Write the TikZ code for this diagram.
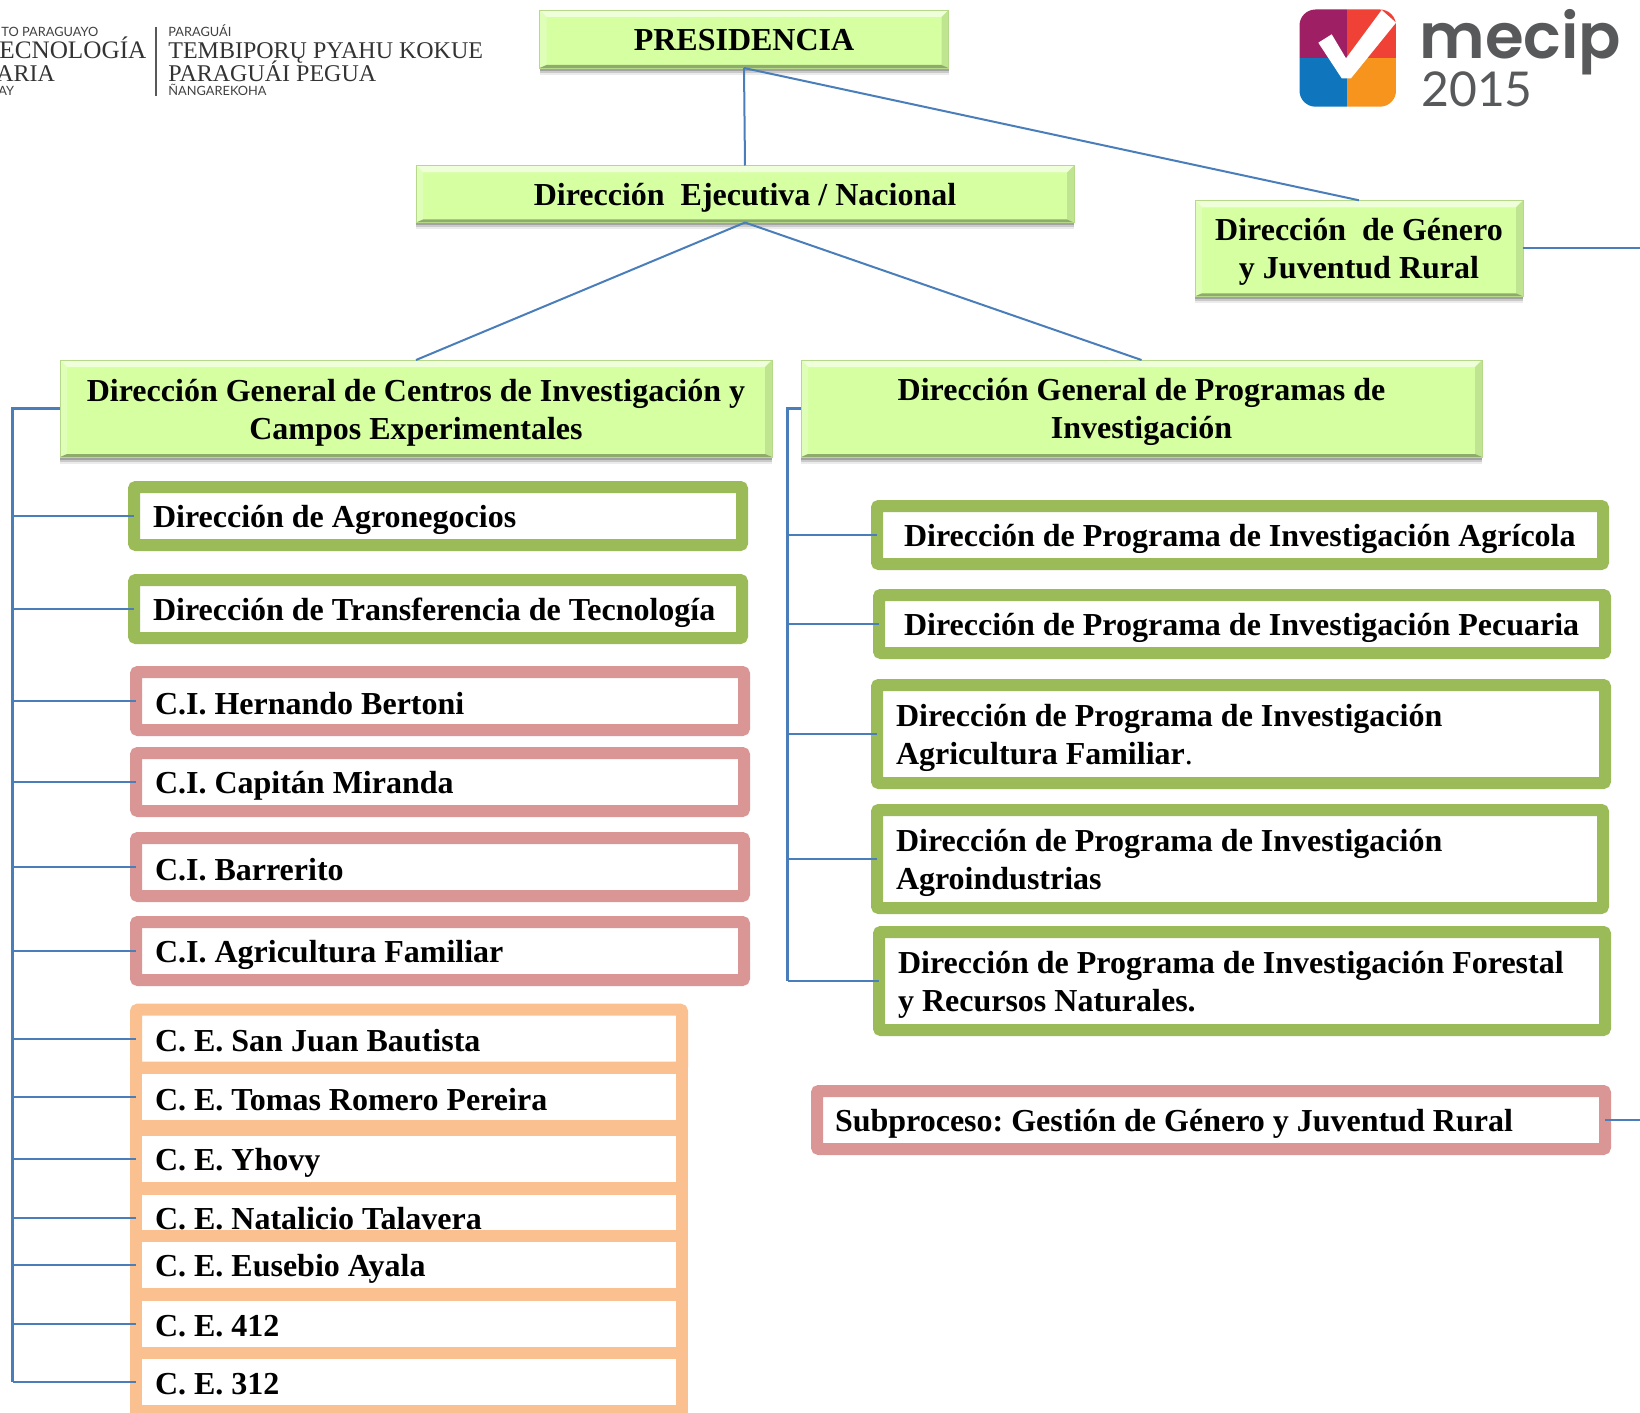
\documentclass[tikz,border=0pt]{standalone}
\usepackage{fontspec}
\setmainfont{Liberation Serif}
\newfontfamily\logosans{Lato}
\newfontfamily\mecipfont{Poppins}[UprightFont=* SemiBold]
\usetikzlibrary{shadows}
\definecolor{linkc}{HTML}{4A7EBB}
\definecolor{greenf}{HTML}{D5FFA0}
\definecolor{olive}{HTML}{9BBB59}
\definecolor{rosec}{HTML}{D99694}
\definecolor{peach}{HTML}{FBC08F}
\definecolor{logog}{HTML}{58595B}
\newcommand{\padv}{19}
\tikzset{
  link/.style={draw=linkc,line width=1pt},
  trunk/.style={draw=linkc,line width=1.3pt},
  txt/.style={font=\fontsize{16}{19}\selectfont\bfseries\frenchspacing,text=black,
    execute at begin node={\rule{0pt}{15pt}},
    execute at end node={\rule[-2pt]{0pt}{2pt}}},
  raised/.style={execute at end node={\rule[-#1]{0pt}{#1}}},
  bevel/.style={path picture={
    \def\pb{path picture bounding box}
    \fill[white!60!greenf] (\pb.north west)--(\pb.north east)--([xshift=-3.5pt,yshift=-3.5pt]\pb.north east)--([xshift=3.5pt,yshift=-3.5pt]\pb.north west)--cycle;
    \fill[white!25!greenf] (\pb.north west)--(\pb.south west)--([xshift=3.5pt,yshift=1.5pt]\pb.south west)--([xshift=3.5pt,yshift=-3.5pt]\pb.north west)--cycle;
    \fill[black!10!greenf] (\pb.north east)--(\pb.south east)--([xshift=-3.5pt,yshift=1.5pt]\pb.south east)--([xshift=-3.5pt,yshift=-3.5pt]\pb.north east)--cycle;
    \fill[black!33!greenf] (\pb.south west)--(\pb.south east)--([xshift=-3.5pt,yshift=1.5pt]\pb.south east)--([xshift=3.5pt,yshift=1.5pt]\pb.south west)--cycle;
  }},
  gbox/.style 2 args={txt,rectangle,fill=greenf,draw=black!15!greenf,line width=.4pt,bevel,
    minimum width=#1*0.5pt,minimum height=#2*0.5pt,inner sep=0pt,outer sep=0pt,align=flush center,
    text width=#1*0.5pt,
    drop shadow={shadow xshift=0pt,shadow yshift=-3.5pt,fill=black,opacity=.08},
    drop shadow={shadow xshift=0pt,shadow yshift=-2.5pt,fill=black,opacity=.14},
    drop shadow={shadow xshift=0pt,shadow yshift=-1.5pt,fill=black,opacity=.2}},
  frame/.style n args={3}{txt,rectangle,draw=#1,fill=white,line width=6pt,rounded corners=1pt,
    minimum width={(#2-12)*0.5pt},minimum height={(#3-12)*0.5pt},
    inner ysep=0pt,outer sep=0pt,align=flush left,
    inner xsep=\padv*0.5pt,text width={(#2-12-2*\padv)*0.5pt}},
  padded/.code={\renewcommand{\padv}{#1}},
  logoserif/.style={anchor=base west,inner sep=0pt,text=black!80,font=\fontsize{12}{12}\selectfont},
  logosmall/.style={anchor=base west,inner sep=0pt,text=black!75,font=\fontsize{6.4}{7}\selectfont\logosans},
}
\begin{document}
\begin{tikzpicture}[x=0.5pt,y=-0.5pt]
\path[use as bounding box,clip] (0,0) rectangle (1640,1413);

% left logo
\node[logosmall] (l1) at (1,37) {TO PARAGUAYO};
\node[logoserif,font=\fontsize{12.6}{12}\selectfont] (l2) at (-1,59) {ECNOLOGÍA};
\node[logoserif] (l3) at (-4,82) {ARIA};
\node[logosmall] (l4) at (-2,96) {AY};
\coordinate (sepa) at (156,27);
\coordinate (sepb) at (156,96);
\draw[black!65,line width=.6pt] (sepa) -- (sepb);
\node[logosmall] (r1) at (168,37) {PARAGUÁI};
\node[logoserif] (r2) at (168,59) {TEMBIPORŲ PYAHU KOKUE};
\node[logoserif] (r3) at (168,82) {PARAGUÁI PEGUA};
\node[logosmall] (r4) at (168,96) {ÑANGAREKOHA};

% mecip logo
\begin{scope}
\clip[rounded corners=8pt] (1299.5,9.5) rectangle (1396,106.7);
\fill[fill={rgb,255:red,158;green,31;blue,99}] (1299,9) rectangle (1346.7,58.3);
\fill[fill={rgb,255:red,240;green,65;blue,54}] (1346.7,9) rectangle (1397,58.3);
\fill[fill={rgb,255:red,15;green,117;blue,188}] (1299,58.3) rectangle (1346.7,107);
\fill[fill={rgb,255:red,247;green,148;blue,30}] (1346.7,58.3) rectangle (1397,107);
\end{scope}
\fill[white] (1318.3,42.7)--(1331.7,34.3)--(1346,58.3)--(1381.7,10)--(1396,22.7)--(1351,78.3)--(1341.7,78.3)--cycle;
\node[anchor=base west,inner sep=0pt,text=logog,font=\fontsize{31.3}{33}\selectfont\mecipfont] (mec) at (1419,59) {mecip};
\node[anchor=base west,inner sep=0pt,text=logog,font=\fontsize{24}{24}\selectfont\logosans] (yr) at (1421,107) {2015};

% green boxes
\node[gbox={409}{58},raised=3.5pt] (pres) at (744,39) {PRESIDENCIA};
\node[gbox={658}{57}] (ejec) at (745,194) {Dirección\ \ Ejecutiva / Nacional};
\node[gbox={328}{96}] (gen) at (1359,248.3) {Dirección\ \ de Género\\y Juventud Rural};
\node[gbox={712}{97}] (dga) at (416,408.5) {Dirección General de Centros de Investigación y\\Campos Experimentales};
\node[gbox={681}{97}] (dgb) at (1141.5,408.5) {Dirección General de Programas de\\Investigación};

% left column
\node[frame={olive}{620}{70}] (a1) at (438,516) {Dirección de Agronegocios};
\node[frame={olive}{620}{70}] (a2) at (438,609) {Dirección de Transferencia de Tecnología};
\node[frame={rosec}{620}{70}] (a3) at (440,701) {C.I. Hernando Bertoni};
\node[frame={rosec}{620}{70}] (a4) at (440,782) {C.I. Capitán Miranda};
\node[frame={rosec}{620}{70}] (a5) at (440,867) {C.I. Barrerito};
\node[frame={rosec}{620}{70}] (a6) at (440,951) {C.I. Agricultura Familiar};

\node[frame={peach}{558}{70}] (c1) at (409,1038.7) {C. E. San Juan Bautista};
\node[frame={peach}{558}{70},sharp corners] (c2) at (409,1097) {C. E. Tomas Romero Pereira};
\node[frame={peach}{558}{70},sharp corners] (c3) at (409,1159) {C. E. Yhovy};
\node[frame={peach}{558}{70},sharp corners,raised=3.5pt] (c4) at (409,1218) {C. E. Natalicio Talavera};
\node[frame={peach}{558}{70},sharp corners] (c5) at (409,1265) {C. E. Eusebio Ayala};
\node[frame={peach}{558}{70},sharp corners] (c6) at (409,1323.7) {C. E. 412};
\node[frame={peach}{558}{70},sharp corners] (c7) at (409,1381.7) {C. E. 312};

% right column
\node[padded=27,frame={olive}{738}{70}] (b1) at (1240,535) {Dirección de Programa de Investigación Agrícola};
\node[padded=25,frame={olive}{738}{70}] (b2) at (1242,624) {Dirección de Programa de Investigación Pecuaria};
\node[padded=19,frame={olive}{740}{110}] (b3) at (1241,734) {Dirección de Programa de Investigación\\Agricultura Familiar{\mdseries .}};
\node[padded=19,frame={olive}{738}{110}] (b4) at (1240,859) {Dirección de Programa de Investigación\\Agroindustrias};
\node[padded=19,frame={olive}{738}{110}] (b5) at (1242,981) {Dirección de Programa de Investigación Forestal\\y Recursos Naturales.};
\node[padded=18,frame={rosec}{800}{70}] (s1) at (1211,1120) {Subproceso: Gestión de Género y Juventud Rural};

% connectors
\draw[link] (pres.south) -- (ejec.north);
\draw[link] (pres.south) -- (gen.north);
\draw[link] (ejec.south) -- (dga.north);
\draw[link] (ejec.south) -- (dgb.north);
\coordinate (genout) at (1640,248.3);
\coordinate (subout) at (1640,1120);
\draw[link] (gen.east) -- (genout);
\draw[link] (s1.east) -- (subout);
\coordinate (ltrunk) at (12.5,408.5);
\coordinate (rtrunk) at (787.5,408.5);
\draw[trunk] (dga.west) -- (ltrunk) -- (ltrunk |- c7.west);
\draw[trunk] (dgb.west) -- (rtrunk) -- (rtrunk |- b5.west);
\foreach \n in {a1,a2,a3,a4,a5,a6,c1,c2,c3,c4,c5,c6,c7}
  \draw[link] (ltrunk |- \n.west) -- (\n.west);
\foreach \n in {b1,b2,b3,b4,b5}
  \draw[link] (rtrunk |- \n.west) -- (\n.west);
\end{tikzpicture}
\end{document}
